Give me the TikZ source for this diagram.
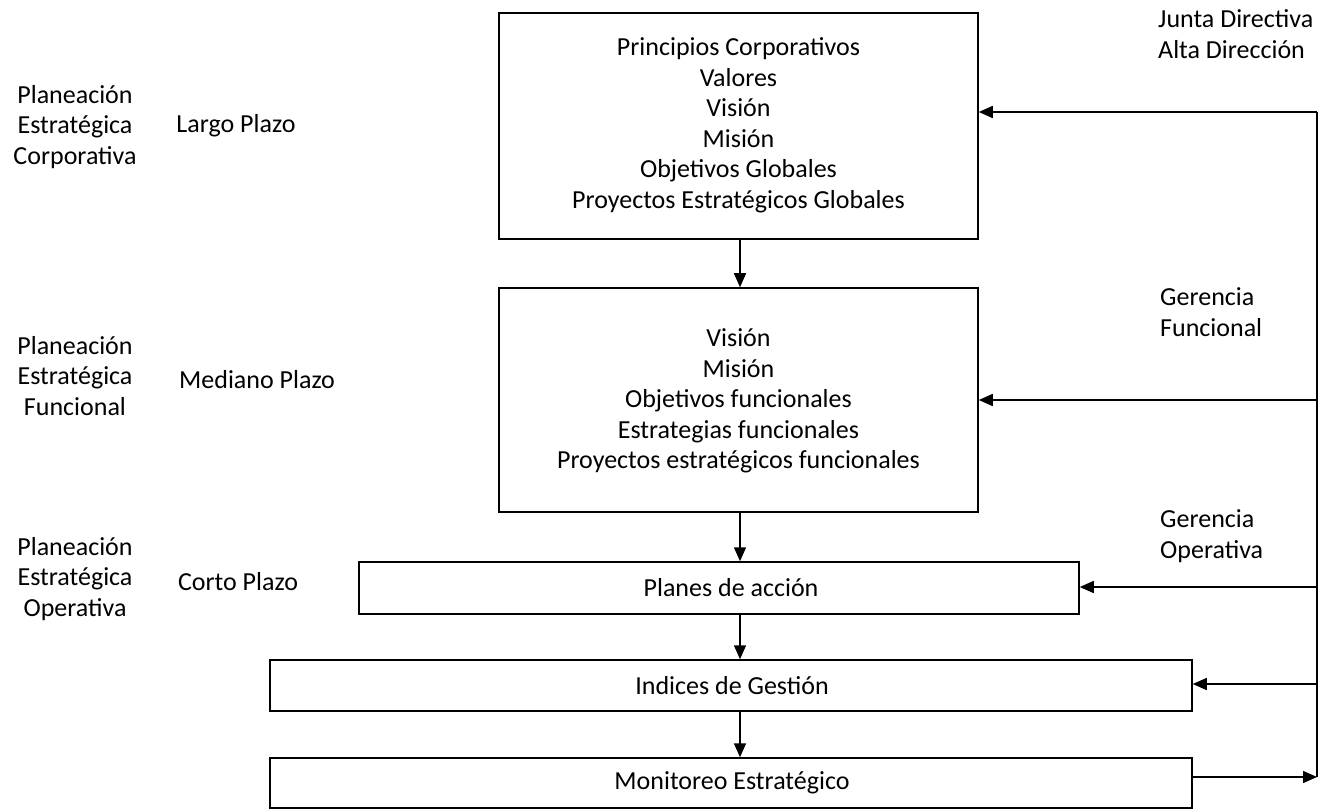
\documentclass[tikz,border=0pt]{standalone}
\usepackage{fontspec}
\setmainfont{Carlito}
\usetikzlibrary{arrows.meta}
\begin{document}
\begin{tikzpicture}[x=1pt,y=-1pt,
  every node/.style={font=\fontsize{26}{30.5}\selectfont, inner sep=0pt},
  txt/.style={align=center},
  ltxt/.style={align=left, anchor=west},
  boxline/.style={draw, line width=1.5pt},
  conn/.style={line width=1.5pt, -{Triangle[length=14pt,width=12pt]}},
  plain/.style={line width=1.5pt}]
\useasboundingbox (0,0) rectangle (1333,810);
% boxes
\node[boxline, minimum width=479pt, minimum height=226pt] (b1) at (738.5,126) {};
\node[txt] (t1) at (738.5,125) {Principios Corporativos\\Valores\\Visión\\Misión\\Objetivos Globales\\Proyectos Estratégicos Globales};
\node[boxline, minimum width=479pt, minimum height=224pt] (b2) at (738.5,400) {};
\node[txt] (t2) at (738.5,401) {Visión\\Misión\\Objetivos funcionales\\Estrategias funcionales\\Proyectos estratégicos funcionales};
\node[boxline, minimum width=720pt, minimum height=52pt] (b3) at (719,588) {};
\node[txt] (t3) at (731,588) {Planes de acción};
\node[boxline, minimum width=922pt, minimum height=51pt] (b4) at (731,685.5) {};
\node[txt] (t4) at (732,685.5) {Indices de Gestión};
\node[boxline, minimum width=922pt, minimum height=50pt] (b5) at (731,783) {};
\node[txt] (t5) at (732,783) {Monitoreo Estratégico};
% left labels
\node[txt] (l1) at (75,127) {Planeación\\Estratégica\\Corporativa};
\node[txt] (m1) at (236,126) {Largo Plazo};
\node[txt] (l2) at (75,376) {Planeación\\Estratégica\\Funcional};
\node[ltxt] (m2) at (179,380) {Mediano Plazo};
\node[txt] (l3) at (75,579) {Planeación\\Estratégica\\Operativa};
\node[txt] (m3) at (238,582) {Corto Plazo};
% right labels
\node[ltxt] (r1) at (1158,34) {Junta Directiva\\Alta Dirección};
\node[ltxt] (r2) at (1160,312) {Gerencia\\Funcional};
\node[ltxt] (r3) at (1160,536) {Gerencia\\Operativa};
% feedback line coordinates
\coordinate (ftop) at (1317,112);
\coordinate (f2) at (1317,400);
\coordinate (f3) at (1317,587);
\coordinate (f4) at (1317,684);
\coordinate (fbot) at (1317,777);
\draw[plain] (ftop) -- (fbot);
% vertical arrows
\draw[conn] (b1.south -| 740,0) -- (b2.north -| 740,0);
\draw[conn] (b2.south -| 740,0) -- (b3.north -| 740,0);
\draw[conn] (b3.south -| 740,0) -- (b4.north -| 740,0);
\draw[conn] (b4.south -| 740,0) -- (b5.north -| 740,0);
% feedback arrows
\draw[conn] (ftop) -- (ftop -| b1.east);
\draw[conn] (f2) -- (f2 -| b2.east);
\draw[conn] (f3) -- (f3 -| b3.east);
\draw[conn] (f4) -- (f4 -| b4.east);
\draw[conn] (fbot -| b5.east) -- (fbot);
\end{tikzpicture}
\end{document}
